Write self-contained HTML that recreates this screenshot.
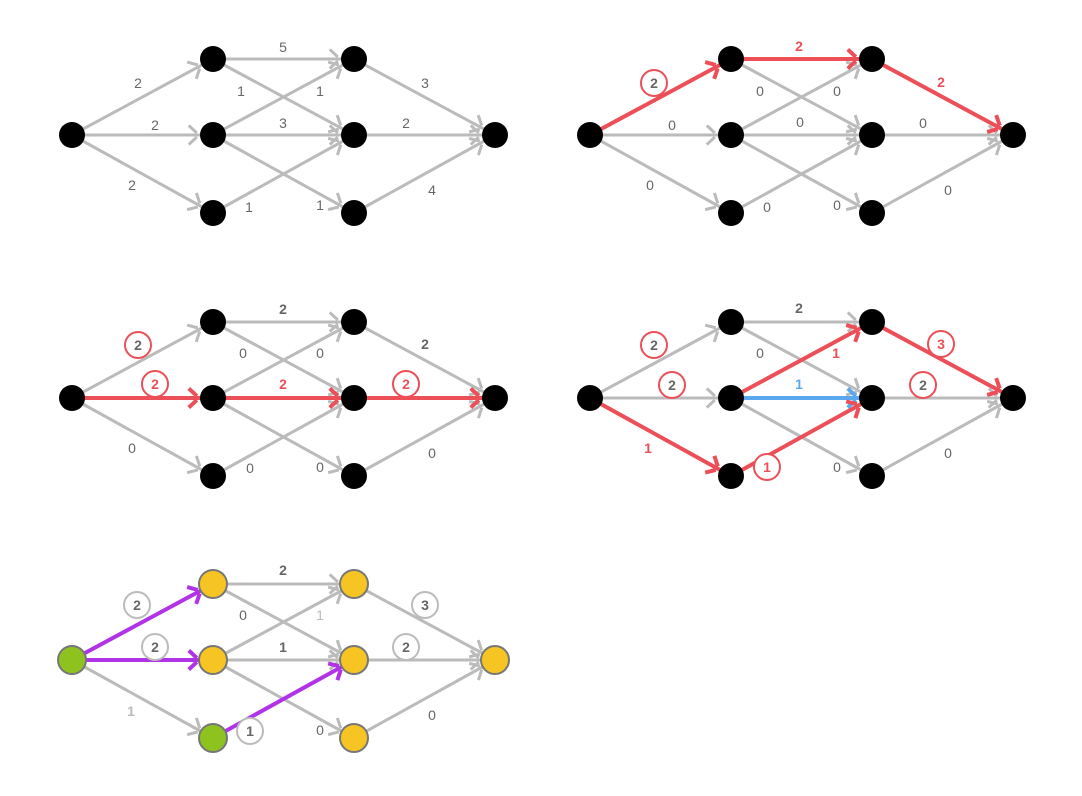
<!DOCTYPE html>
<html><head><meta charset="utf-8"><style>
html,body{margin:0;padding:0;background:#fff;width:1082px;height:796px;overflow:hidden}
svg text{font-family:"Liberation Sans",sans-serif;font-size:14px;text-anchor:middle;dominant-baseline:central}
</style></head><body>
<svg id="s" width="1082" height="796" xmlns="http://www.w3.org/2000/svg"></svg>
<script>
const N={S:[72,135],A:[213,59],B:[213,135],C:[213,213],D:[354,59],E:[354,135],F:[354,213],T:[495,135]};
const EDGES=[["S","A"],["S","B"],["S","C"],["A","D"],["A","E"],["B","D"],["B","E"],["B","F"],["C","E"],["D","T"],["E","T"],["F","T"]];
const G="#bbbbbb",R="#ec4f58",P="#b133e8",BL="#5aa9f0";
const panels=[
 {dx:0,dy:0,col:{},lab:[["S","A","2",138,83],["S","B","2",155,125],["S","C","2",132,185],["A","D","5",283,47],["A","E","1",241,91],["B","D","1",320,91],["B","E","3",283,123],["C","E","1",249,207],["B","F","1",320,205],["D","T","3",425,83],["E","T","2",406,123],["F","T","4",432,190]].map(a=>({t:a[2],x:a[3],y:a[4],c:"#666"}))},
 {dx:518,dy:0,col:{SA:R,AD:R,DT:R},lab:[
  {t:"2",x:654,y:83,c:"#666",ring:R,b:1},{t:"2",x:799,y:46,c:R,b:1},{t:"2",x:941,y:82,c:R,b:1},
  {t:"0",x:672,y:125},{t:"0",x:650,y:185},{t:"0",x:760,y:91},{t:"0",x:837,y:91},{t:"0",x:800,y:122},{t:"0",x:767,y:207},{t:"0",x:837,y:205},{t:"0",x:923,y:123},{t:"0",x:948,y:190}]},
 {dx:0,dy:263,col:{SB:R,BE:R,ET:R},lab:[
  {t:"2",x:138,y:345,c:"#666",ring:R,b:1},{t:"2",x:155,y:384,c:R,ring:R,b:1},{t:"0",x:132,y:448},{t:"2",x:283,y:309,b:1},{t:"0",x:243,y:353},{t:"0",x:320,y:353},{t:"2",x:283,y:384,c:R,b:1},{t:"0",x:250,y:468},{t:"0",x:320,y:467},{t:"2",x:425,y:344,b:1},{t:"2",x:406,y:384,c:R,ring:R,b:1},{t:"0",x:432,y:453}]},
 {dx:518,dy:263,col:{SC:R,CE:R,BD:R,DT:R,BE:BL},lab:[
  {t:"2",x:654,y:345,ring:R,b:1},{t:"2",x:672,y:385,ring:R,b:1},{t:"1",x:648,y:448,c:R,b:1},{t:"2",x:799,y:308,b:1},{t:"0",x:760,y:353},{t:"1",x:836,y:353,c:R,b:1},{t:"1",x:799,y:384,c:BL,b:1},{t:"1",x:767,y:467,c:R,ring:R,b:1},{t:"0",x:837,y:467},{t:"3",x:941,y:344,c:R,ring:R,b:1},{t:"2",x:923,y:385,ring:R,b:1},{t:"0",x:948,y:453}]},
 {dx:0,dy:525,col:{SA:P,SB:P,CE:P},fill:{S:"#8dc21f",C:"#8dc21f"},def:"#f6c423",lab:[
  {t:"2",x:137,y:605,ring:G,b:1},{t:"2",x:155,y:647,ring:G,b:1},{t:"1",x:131,y:711,c:"#bbb",b:1},{t:"2",x:283,y:570,b:1},{t:"0",x:243,y:615},{t:"1",x:320,y:615,c:"#bbb"},{t:"1",x:283,y:647,b:1},{t:"1",x:250,y:731,ring:G,b:1},{t:"0",x:320,y:730},{t:"3",x:425,y:605,ring:G,b:1},{t:"2",x:406,y:647,ring:G,b:1},{t:"0",x:432,y:715}]}
];
let h="";
for(const p of panels){
 const pos=k=>[N[k][0]+p.dx,N[k][1]+p.dy];
 const draw=(hl)=>{
 for(const [a,b] of EDGES){
  const c=p.col[a+b]||G; const isH=c!==G; if(isH!==hl) continue;
  const w=isH?4:3;
  const [x1,y1]=pos(a),[x2,y2]=pos(b);
  const dx=x2-x1,dy=y2-y1,L=Math.hypot(dx,dy),ux=dx/L,uy=dy/L;
  h+=`<line x1="${x1}" y1="${y1}" x2="${x2}" y2="${y2}" stroke="${c}" stroke-width="${w}"/>`;
  const tx=x2-ux*14,ty=y2-uy*14;
  for(const s of [1,-1]){
   const ang=Math.atan2(-uy,-ux)+s*0.75;
   const sx=tx+Math.cos(ang)*3,sy=ty+Math.sin(ang)*3;
   h+=`<line x1="${sx}" y1="${sy}" x2="${tx+Math.cos(ang)*14}" y2="${ty+Math.sin(ang)*14}" stroke="${c}" stroke-width="${w}"/>`;
  }
 }};
 draw(false);draw(true);
 for(const k in N){
  const [x,y]=pos(k);
  if(p.def) h+=`<circle cx="${x}" cy="${y}" r="14" fill="${(p.fill&&p.fill[k])||p.def}" stroke="#777" stroke-width="2"/>`;
  else h+=`<circle cx="${x}" cy="${y}" r="13" fill="#000"/>`;
 }
 for(const l of p.lab){
  if(l.ring) h+=`<circle cx="${l.x}" cy="${l.y}" r="13" fill="#fff" stroke="${l.ring}" stroke-width="2"/>`;
  h+=`<text x="${l.x}" y="${l.y}" fill="${l.c||'#666'}" font-weight="${l.b?'bold':'normal'}">${l.t}</text>`;
 }
}
document.getElementById("s").innerHTML=h;
</script>
</body></html>
